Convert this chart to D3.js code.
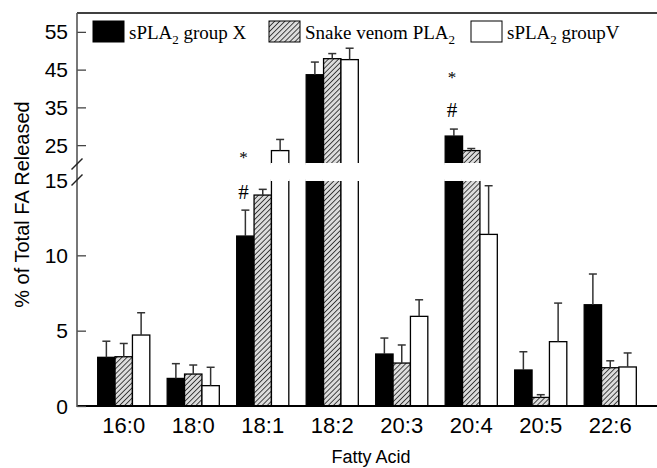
<!DOCTYPE html>
<html>
<head>
<meta charset="utf-8">
<script src="https://cdn.jsdelivr.net/npm/d3@7/dist/d3.min.js"></script>
<style>
  html, body { margin: 0; padding: 0; background: #fff; }
  svg { display: block; }
</style>
</head>
<body>
<svg id="chart" width="657" height="468"></svg>
<script>
// Fatty acid species on the x axis
const categories = ["16:0", "18:0", "18:1", "18:2", "20:3", "20:4", "20:5", "22:6"];

// Enzyme series (legend order)
const seriesNames = ["sPLA2 group X", "Snake venom PLA2", "sPLA2 groupV"];

// Mean % of total FA released, per series, per fatty acid
const groupX     = [3.23, 1.83, 11.28, 43.65, 3.45, 27.4, 2.39, 6.72];
const snakeVenom = [3.27, 2.12, 14.0, 47.9, 2.85, 23.55, 0.57, 2.54];
const groupV     = [4.71, 1.35, 23.55, 47.65, 5.95, 11.39, 4.27, 2.59];

// Upper end of each error bar (mean + SD)
const groupXErr     = [4.3, 2.81, 13.0, 47.0, 4.51, 29.25, 3.6, 8.76];
const snakeVenomErr = [4.15, 2.72, 14.38, 49.25, 4.05, 24.1, 0.75, 3.0];
const groupVErr     = [6.19, 2.57, 26.5, 50.67, 7.05, 14.62, 6.83, 3.52];

// Tick values on the two segments of the broken y axis
const lowTicks = [0, 5, 10, 15];
const highTicks = [25, 35, 45, 55];

// Significance marks: [category, symbol, y value]
const marks = [
  ["18:1", "*", 23.4],
  ["18:1", "#", 14.3],
  ["20:4", "*", 44.5],
  ["20:4", "#", 34.6]
];

const series = [
  { name: seriesNames[0], values: groupX, err: groupXErr, fill: "#000" },
  { name: seriesNames[1], values: snakeVenom, err: snakeVenomErr, fill: "url(#hatch)" },
  { name: seriesNames[2], values: groupV, err: groupVErr, fill: "#fff" }
];

const svg = d3.select("#chart");

// Diagonal hatching for the snake venom series
const defs = svg.append("defs");
const pat = defs.append("pattern")
  .attr("id", "hatch")
  .attr("patternUnits", "userSpaceOnUse")
  .attr("width", 3.6).attr("height", 3.6)
  .attr("patternTransform", "rotate(45)");
pat.append("rect").attr("width", 3.6).attr("height", 3.6).attr("fill", "#dcdcdc");
pat.append("line").attr("x1", 0).attr("y1", 0).attr("x2", 0).attr("y2", 3.6)
  .attr("stroke", "#333").attr("stroke-width", 1.8);

const axisX = 77, rightX = 657, topY = 13, baseY = 406;

const x = d3.scaleBand().domain(categories).range([89, 645])
  .paddingInner(0.25).paddingOuter(0.125);
const xs = d3.scaleBand().domain(d3.range(series.length)).range([0, x.bandwidth()]);

// Broken y axis: lower segment 0-15, upper segment 20-60
const yLow = d3.scaleLinear().domain([0, 15]).range([baseY, 180]);
const yHigh = d3.scaleLinear().domain([20, 60]).range([164, topY]);
const yOf = v => v <= 15 ? yLow(v) : yHigh(v);

const fontSans = "Liberation Sans, Arial, Helvetica, sans-serif";
const fontSerif = "Liberation Serif, Times New Roman, serif";

// Bars
series.forEach((s, si) => {
  const g = svg.append("g");
  s.values.forEach((v, ci) => {
    const bx = x(categories[ci]) + xs(si);
    const bw = xs.bandwidth();
    const lowTop = yLow(Math.min(v, 15));
    g.append("rect")
      .attr("x", bx).attr("y", lowTop)
      .attr("width", bw).attr("height", baseY - lowTop)
      .attr("fill", s.fill).attr("stroke", "#000").attr("stroke-width", 1.3);
    if (v > 15) {
      const hiTop = yHigh(v);
      g.append("rect")
        .attr("x", bx).attr("y", hiTop)
        .attr("width", bw).attr("height", yHigh(20) - hiTop)
        .attr("fill", s.fill).attr("stroke", "#000").attr("stroke-width", 1.3);
      // both pieces of a broken bar are open at the break
      [yLow(15), yHigh(20)].forEach(yy => {
        g.append("line")
          .attr("x1", bx - 1).attr("x2", bx + bw + 1)
          .attr("y1", yy).attr("y2", yy)
          .attr("stroke", "#fff").attr("stroke-width", 2);
      });
    }
    // error bar (upper side only)
    const cx = bx + bw / 2;
    const e = s.err[ci];
    g.append("line")
      .attr("x1", cx).attr("x2", cx)
      .attr("y1", yOf(v)).attr("y2", yOf(e))
      .attr("stroke", "#333").attr("stroke-width", 1.5);
    g.append("line")
      .attr("x1", cx - 4).attr("x2", cx + 4)
      .attr("y1", yOf(e)).attr("y2", yOf(e))
      .attr("stroke", "#333").attr("stroke-width", 1.5);
  });
});

// Frame: top border and x baseline
svg.append("line").attr("x1", axisX).attr("x2", rightX).attr("y1", topY).attr("y2", topY)
  .attr("stroke", "#000").attr("stroke-width", 1.5);
svg.append("line").attr("x1", axisX).attr("x2", rightX).attr("y1", baseY).attr("y2", baseY)
  .attr("stroke", "#000").attr("stroke-width", 2);

// Y axis with inward ticks on both segments
const yAxisLow = d3.axisRight(yLow).tickValues(lowTicks.filter(t => t < 15)).tickSize(9).tickFormat("");
const yAxisHigh = d3.axisRight(yHigh).tickValues(highTicks).tickSize(9).tickFormat("");
[yAxisLow, yAxisHigh].forEach(ax => {
  const g = svg.append("g").attr("transform", `translate(${axisX},0)`).call(ax);
  g.select(".domain").remove();
  g.selectAll(".tick line").attr("stroke", "#444").attr("stroke-width", 1.3);
});
svg.append("line").attr("x1", axisX).attr("x2", axisX).attr("y1", topY).attr("y2", baseY + 1)
  .attr("stroke", "#555").attr("stroke-width", 1.6);

// Tick labels
const tickLabels = svg.append("g").attr("font-family", fontSans).attr("font-size", 21)
  .attr("text-anchor", "end").attr("fill", "#000");
lowTicks.forEach(t => {
  tickLabels.append("text").attr("x", 68).attr("y", yLow(t)).attr("dy", "0.36em").text(t);
});
highTicks.forEach(t => {
  tickLabels.append("text").attr("x", 68).attr("y", yHigh(t)).attr("dy", "0.36em").text(t);
});

// Break marks on the y axis
[yHigh(20), yLow(15)].forEach(by => {
  svg.append("line")
    .attr("x1", axisX - 5.5).attr("y1", by + 5.5)
    .attr("x2", axisX + 5.5).attr("y2", by - 5.5)
    .attr("stroke", "#222").attr("stroke-width", 1.4);
});

// X axis labels
const xLabels = svg.append("g").attr("font-family", fontSans).attr("font-size", 22)
  .attr("text-anchor", "middle").attr("fill", "#000");
categories.forEach(c => {
  xLabels.append("text").attr("x", x(c) + x.bandwidth() / 2).attr("y", 433).text(c);
});

// Axis titles
svg.append("text").attr("x", 371).attr("y", 463)
  .attr("font-family", fontSans).attr("font-size", 18).attr("text-anchor", "middle")
  .text("Fatty Acid");
svg.append("text")
  .attr("transform", `translate(28.5,204.5) rotate(-90)`)
  .attr("font-family", fontSans).attr("font-size", 20).attr("text-anchor", "middle")
  .text("% of Total FA Released");

// Significance marks
const markG = svg.append("g").attr("font-family", fontSerif).attr("text-anchor", "middle");
marks.forEach(([c, sym, v]) => {
  markG.append("text")
    .attr("x", x(c) + xs(0) + xs.bandwidth() / 2 - 2)
    .attr("y", yOf(v))
    .attr("font-size", sym === "*" ? 17 : 21)
    .attr("dy", sym === "*" ? "0.7em" : "0.38em")
    .text(sym);
});

// Legend
const legendItems = [
  { x: 93, fill: "#000", main: "sPLA", sub: "2", rest: " group X" },
  { x: 269, fill: "url(#hatch)", main: "Snake venom PLA", sub: "2", rest: "" },
  { x: 471, fill: "#fff", main: "sPLA", sub: "2", rest: " groupV" }
];
const legend = svg.append("g");
legendItems.forEach(it => {
  legend.append("rect").attr("x", it.x).attr("y", 21).attr("width", 31).attr("height", 21)
    .attr("fill", it.fill).attr("stroke", "#000").attr("stroke-width", 1);
  const t = legend.append("text").attr("x", it.x + 36).attr("y", 39)
    .attr("font-family", fontSerif).attr("font-size", 19).attr("fill", "#000");
  t.append("tspan").text(it.main);
  t.append("tspan").attr("dy", 5).attr("font-size", 13).text(it.sub);
  if (it.rest) t.append("tspan").attr("dy", -5).text(it.rest);
});
</script>
</body>
</html>
